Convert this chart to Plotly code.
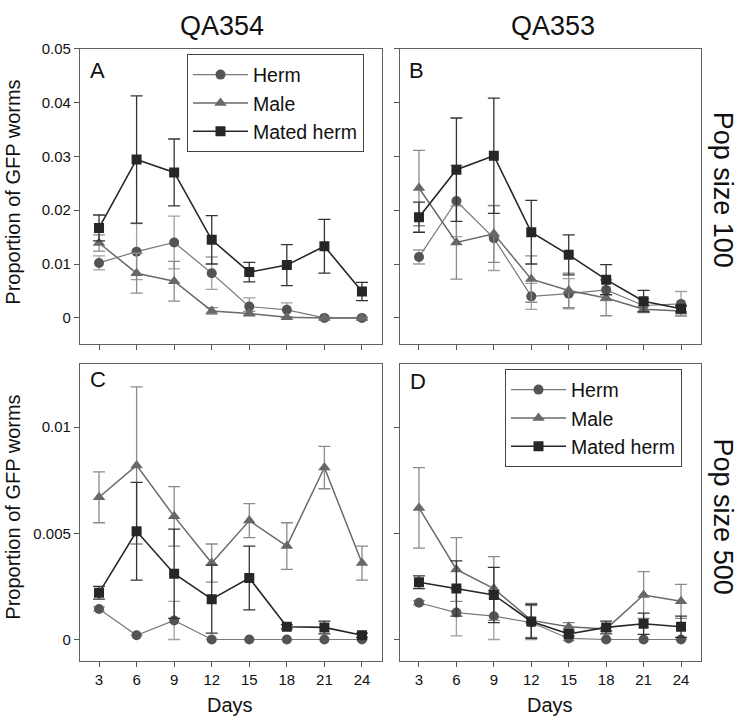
import plotly.graph_objects as go

days = [3, 6, 9, 12, 15, 18, 21, 24]

# Panel A: QA354, pop size 100
herm_A = [0.0102, 0.0123, 0.0140, 0.0083, 0.0021, 0.0015, 0.0, 0.0]
herm_A_err = [0.0013, 0.0052, 0.0049, 0.0030, 0.0016, 0.0013, 0.0002, 0.0002]
male_A = [0.0139, 0.0083, 0.0068, 0.0013, 0.0008, 0.0001, 0.0, 0.0]
male_A_err = [0.0015, 0.0037, 0.0037, 0.0006, 0.0004, 0.0001, 0.0, 0.0]
mated_A = [0.0167, 0.0294, 0.0270, 0.0145, 0.0085, 0.0098, 0.0133, 0.0049]
mated_A_err = [0.0024, 0.0118, 0.0062, 0.0045, 0.0018, 0.0038, 0.0050, 0.0017]

# Panel B: QA353, pop size 100
herm_B = [0.0113, 0.0217, 0.0148, 0.0040, 0.0045, 0.0052, 0.0023, 0.0026]
herm_B_err = [0.0013, 0.0066, 0.0060, 0.0024, 0.0028, 0.0020, 0.0012, 0.0023]
male_B = [0.0241, 0.0140, 0.0156, 0.0072, 0.0051, 0.0037, 0.0016, 0.0013]
male_B_err = [0.0070, 0.0068, 0.0053, 0.0043, 0.0032, 0.0033, 0.0006, 0.0008]
mated_B = [0.0187, 0.0275, 0.0301, 0.0159, 0.0117, 0.0071, 0.0031, 0.0017]
mated_B_err = [0.0028, 0.0096, 0.0107, 0.0059, 0.0037, 0.0028, 0.0020, 0.0006]

# Panel C: QA354, pop size 500
herm_C = [0.00144, 0.0002, 0.0009, 0.0, 0.0, 0.0, 0.0, 0.0]
herm_C_err = [0.0001, 0.0, 0.0009, 0.0, 0.0, 0.0, 0.0, 0.0]
male_C = [0.0067, 0.0082, 0.0058, 0.0036, 0.0056, 0.0044, 0.0081, 0.0036]
male_C_err = [0.0012, 0.0037, 0.0014, 0.0009, 0.0008, 0.0011, 0.0010, 0.0008]
mated_C = [0.0022, 0.0051, 0.0031, 0.0019, 0.0029, 0.0006, 0.00057, 0.0002]
mated_C_err = [0.0003, 0.0023, 0.0021, 0.0016, 0.0015, 0.0001, 0.0003, 0.0001]

# Panel D: QA353, pop size 500
herm_D = [0.00173, 0.00127, 0.0011, 0.0008, 0.00005, 0.0, 0.0, 0.0]
herm_D_err = [0.0001, 0.0011, 0.0011, 0.0008, 0.0001, 0.0, 0.0, 0.0]
male_D = [0.0062, 0.0033, 0.0024, 0.0009, 0.0006, 0.0005, 0.0021, 0.0018]
male_D_err = [0.0019, 0.0015, 0.0015, 0.0008, 0.0002, 0.0001, 0.0011, 0.0008]
mated_D = [0.0027, 0.0024, 0.0021, 0.00085, 0.00026, 0.00057, 0.00074, 0.0006]
mated_D_err = [0.0003, 0.0013, 0.0013, 0.0008, 0.0001, 0.0003, 0.0005, 0.0005]

series_names = ["Herm", "Male", "Mated herm"]
yticks_top = [0, 0.01, 0.02, 0.03, 0.04, 0.05]
yticks_top_text = ["0", "0.01", "0.02", "0.03", "0.04", "0.05"]
yticks_bot = [0, 0.005, 0.01]
yticks_bot_text = ["0", "0.005", "0.01"]

W, H = 739, 720
FONT = "Liberation Sans, Arial, sans-serif"

styles = {
    "Herm": dict(symbol="circle", size=10, mcolor="#545454", lcolor="#7a7a7a", lw=1.2, ecolor="#a0a0a0"),
    "Male": dict(symbol="triangle-up", size=11, mcolor="#686868", lcolor="#6a6a6a", lw=1.5, ecolor="#8a8a8a"),
    "Mated herm": dict(symbol="square", size=10, mcolor="#262626", lcolor="#262626", lw=1.6, ecolor="#333333"),
}

panels = [
    ("x", "y", [herm_A, male_A, mated_A], [herm_A_err, male_A_err, mated_A_err], "legend"),
    ("x2", "y2", [herm_B, male_B, mated_B], [herm_B_err, male_B_err, mated_B_err], None),
    ("x3", "y3", [herm_C, male_C, mated_C], [herm_C_err, male_C_err, mated_C_err], None),
    ("x4", "y4", [herm_D, male_D, mated_D], [herm_D_err, male_D_err, mated_D_err], "legend2"),
]

fig = go.Figure()
for xa, ya, vals, errs, leg in panels:
    for name, v, e in zip(series_names, vals, errs):
        s = styles[name]
        kw = dict(showlegend=leg is not None)
        if leg is not None:
            kw["legend"] = leg
        fig.add_trace(go.Scatter(
            x=days, y=v, name=name, xaxis=xa, yaxis=ya, mode="lines+markers",
            line=dict(color=s["lcolor"], width=s["lw"]),
            marker=dict(symbol=s["symbol"], size=s["size"], color=s["mcolor"]),
            error_y=dict(type="data", array=e, visible=True, color=s["ecolor"], thickness=1.3, width=6),
            **kw,
        ))

def px_x(a, b):
    return [a / W, b / W]

def px_y(top, bottom):
    return [1 - bottom / H, 1 - top / H]

xr = [1.48, 25.6]
common_x = dict(range=xr, tickvals=days, ticks="outside", ticklen=5, tickcolor="#555",
                showline=True, linecolor="#606060", linewidth=1.2, mirror=True,
                showgrid=False, zeroline=False, tickfont=dict(size=15, color="#111", family=FONT))
common_y = dict(ticks="outside", ticklen=5, tickcolor="#555",
                showline=True, linecolor="#606060", linewidth=1.2, mirror=True,
                showgrid=False, zeroline=False, tickfont=dict(size=15, color="#111", family=FONT))

legend_common = dict(xanchor="left", yanchor="top", bordercolor="#444", borderwidth=1,
                     bgcolor="white", itemwidth=55, tracegroupgap=0,
                     font=dict(size=19.5, family=FONT, color="#111"))

fig.update_layout(
    width=W, height=H, autosize=False,
    margin=dict(l=0, r=0, t=0, b=0),
    paper_bgcolor="white", plot_bgcolor="white",
    font=dict(family=FONT, color="#111"),
    xaxis=dict(domain=px_x(80, 382), anchor="y", showticklabels=False, **common_x),
    xaxis2=dict(domain=px_x(400, 701), anchor="y2", showticklabels=False, **common_x),
    xaxis3=dict(domain=px_x(80, 382), anchor="y3", showticklabels=True, **common_x),
    xaxis4=dict(domain=px_x(400, 701), anchor="y4", showticklabels=True, **common_x),
    yaxis=dict(domain=px_y(40, 339), anchor="x", range=[-0.0048, 0.05],
               tickvals=yticks_top, ticktext=yticks_top_text, **common_y),
    yaxis2=dict(domain=px_y(40, 339), anchor="x2", range=[-0.0048, 0.05],
                tickvals=yticks_top, showticklabels=False, **common_y),
    yaxis3=dict(domain=px_y(359, 660), anchor="x3", range=[-0.001, 0.013],
                tickvals=yticks_bot, ticktext=yticks_bot_text, **common_y),
    yaxis4=dict(domain=px_y(359, 660), anchor="x4", range=[-0.001, 0.013],
                tickvals=yticks_bot, showticklabels=False, **common_y),
    legend=dict(x=187 / W, y=1 - 46 / H, **legend_common),
    legend2=dict(x=505 / W, y=1 - 365 / H, **legend_common),
)

ann = []
def add_text(text, x, y, size, angle=0, xanchor="center", yanchor="middle"):
    ann.append(dict(text=text, x=x / W, y=1 - y / H, xref="paper", yref="paper",
                    showarrow=False, textangle=angle, xanchor=xanchor, yanchor=yanchor,
                    font=dict(size=size, family=FONT, color="#111")))

add_text("QA354", 222, 17, 27)
add_text("QA353", 553, 17, 27)
add_text("Pop size 100", 723, 183, 27, angle=90)
add_text("Pop size 500", 723, 514, 27, angle=90)
add_text("Proportion of GFP worms", 13, 186, 20, angle=-90)
add_text("Proportion of GFP worms", 13, 505, 20, angle=-90)
add_text("Days", 230, 705, 20)
add_text("Days", 550, 705, 20)
add_text("A", 88, 62, 22, xanchor="left")
add_text("B", 407, 62, 22, xanchor="left")
add_text("C", 88, 375, 22, xanchor="left")
add_text("D", 408, 377, 22, xanchor="left")
fig.update_layout(annotations=ann)

fig.write_html("out.html", config={"displayModeBar": False},
               post_script="document.body.style.margin='0px';")
